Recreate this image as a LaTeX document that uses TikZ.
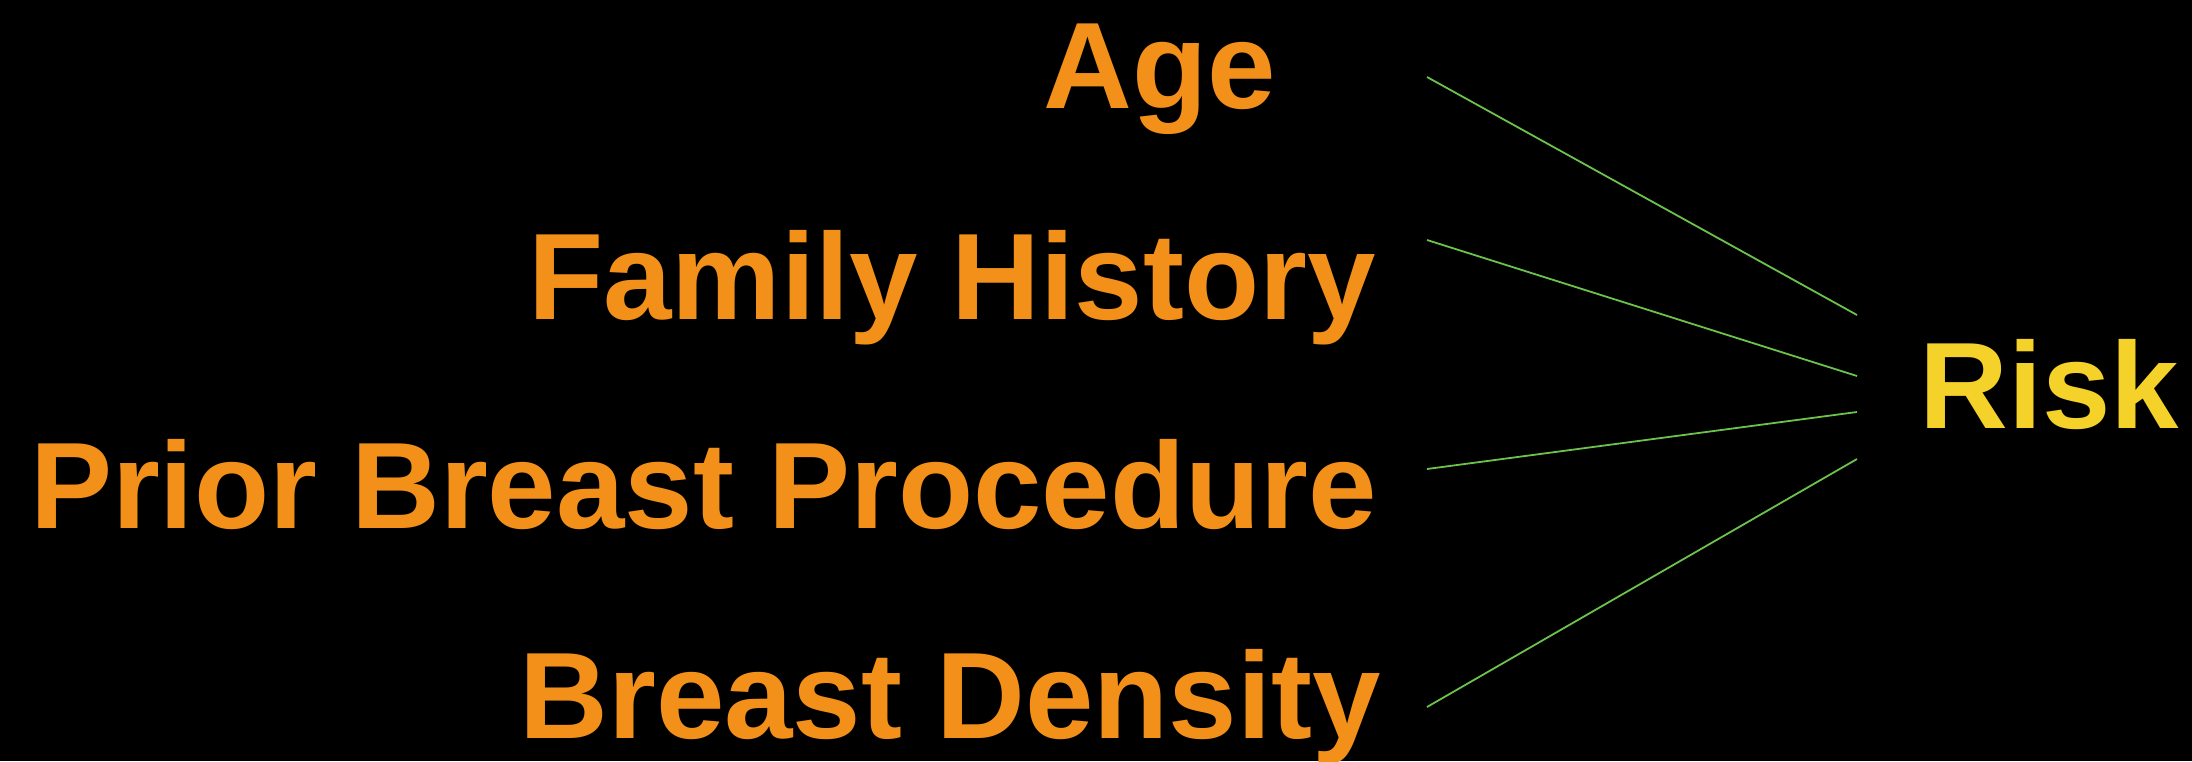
\documentclass[tikz,border=0pt]{standalone}
\usepackage{fontspec}
\setmainfont{Liberation Sans}
\usepackage{xcolor}
\usepackage{tikz}
\usetikzlibrary{positioning}
\definecolor{RSKbg}{HTML}{000000}
\definecolor{RSKorange}{HTML}{F39019}
\definecolor{RSKyellow}{HTML}{F5D22A}
\definecolor{RSKgreen}{HTML}{6CC24A}
\tikzset{
  factor/.style={inner sep=0pt, font=\fontsize{123}{140}\selectfont\bfseries, text=RSKorange},
  outcome/.style={inner sep=0pt, font=\fontsize{123}{140}\selectfont\bfseries, text=RSKyellow},
  link/.style={draw=RSKgreen, line width=1.8pt}
}

\begin{document}
\begin{tikzpicture}[x=1pt, y=-1pt]
\fill[RSKbg] (0,0) rectangle (2192,761);
\useasboundingbox (0,0) rectangle (2192,761);
\node[factor, anchor=base west] (age) at (1043,108) {Age};
\node[factor, anchor=base east] (fh) at (1376,319) {Family History};
\node[factor, anchor=base east] (pbp) at (1377,528) {Prior Breast Procedure};
\node[factor, anchor=base east] (bd) at (1381,738) {Breast Density};
\node[outcome, anchor=base west] (risk) at (1919,428) {Risk};
\coordinate (age-out) at (1427,77);
\coordinate (fh-out) at (1427,240);
\coordinate (pbp-out) at (1427,469);
\coordinate (bd-out) at (1427,707);
\coordinate (risk-in1) at (1857,315);
\coordinate (risk-in2) at (1857,376);
\coordinate (risk-in3) at (1857,412);
\coordinate (risk-in4) at (1857,459);
\draw[link] (age-out) -- (risk-in1);
\draw[link] (fh-out) -- (risk-in2);
\draw[link] (pbp-out) -- (risk-in3);
\draw[link] (bd-out) -- (risk-in4);
\end{tikzpicture}
\end{document}
